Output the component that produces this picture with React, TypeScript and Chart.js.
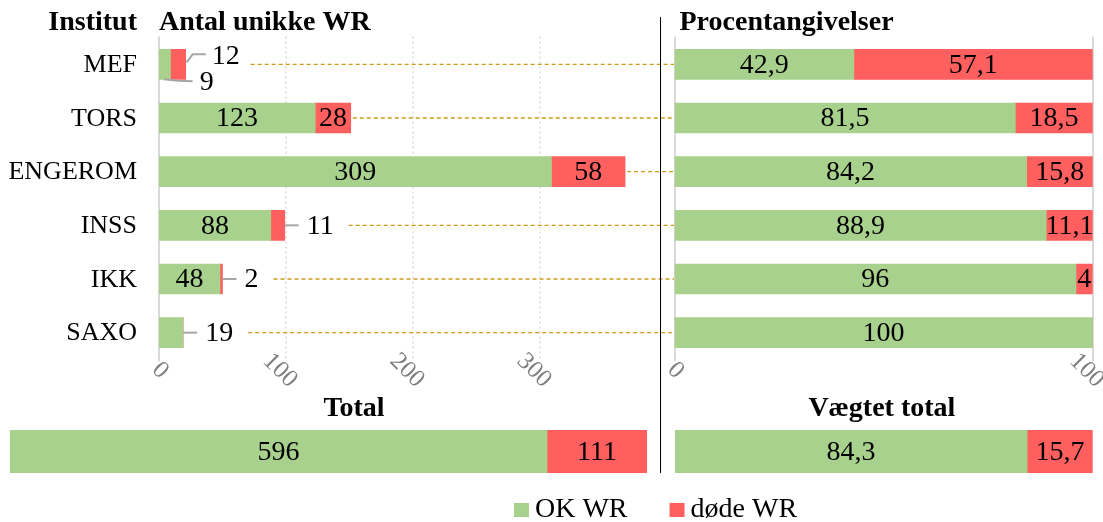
import React, { useEffect, useRef } from 'react';
import { Chart, registerables } from 'chart.js';
Chart.register(...registerables);

const categories = ['MEF', 'TORS', 'ENGEROM', 'INSS', 'IKK', 'SAXO'];
const okCounts = [9, 123, 309, 88, 48, 19];
const deadCounts = [12, 28, 58, 11, 2, 0];
const okPercent = [42.9, 81.5, 84.2, 88.9, 96, 100];
const deadPercent = [57.1, 18.5, 15.8, 11.1, 4, 0];
const totalCategory = ['Total'];
const totalOk = [596];
const totalDead = [111];
const weightedCategory = ['Vægtet total'];
const weightedOk = [84.3];
const weightedDead = [15.7];
const countTicks = [0, 100, 200, 300];
const percentTicks = [0, 100];
const seriesNames = ['OK WR', 'døde WR'];
const headerInstitut = 'Institut';
const headerCounts = 'Antal unikke WR';
const headerPercent = 'Procentangivelser';

const GREEN = '#a9d18e';
const RED = '#ff5f5f';
const SERIF = '"Liberation Serif", "Times New Roman", serif';
const LEADER = '#a6a6a6';
const DASH = '#cf9a17';
const GRID = '#d9d9d9';
const LABEL_FONT = `28px ${SERIF}`;
const TITLE_FONT = `bold 28px ${SERIF}`;

const fmt = (v: number) => String(v).replace('.', ',');

function datasets(ok: number[], dead: number[], thickness: number) {
  return [
    { label: seriesNames[0], data: ok, backgroundColor: GREEN, barThickness: thickness, borderWidth: 0 },
    { label: seriesNames[1], data: dead, backgroundColor: RED, barThickness: thickness, borderWidth: 0 },
  ];
}

function baseOptions(padding: any, xMax: number) {
  return {
    indexAxis: 'y' as const,
    responsive: false,
    maintainAspectRatio: false,
    animation: false as const,
    layout: { padding },
    plugins: { legend: { display: false }, tooltip: { enabled: false }, title: { display: false } },
    scales: {
      x: { display: false, stacked: true, min: 0, max: xMax },
      y: { display: false, stacked: true },
    },
  };
}

function drawGrid(chart: any, ticks: number[], dottedInner: boolean) {
  const ctx = chart.ctx;
  const a = chart.chartArea;
  const xs = chart.scales.x;
  ctx.save();
  ticks.forEach((v) => {
    const x = Math.round(xs.getPixelForValue(v));
    ctx.beginPath();
    ctx.strokeStyle = GRID;
    if (dottedInner && v !== 0) {
      ctx.lineWidth = 1.5;
      ctx.setLineDash([2, 3]);
    } else {
      ctx.lineWidth = 2;
      ctx.setLineDash([]);
    }
    ctx.moveTo(x, a.top - 1);
    ctx.lineTo(x, a.bottom + 2);
    ctx.stroke();
  });
  ctx.restore();
}

function drawRotatedTicks(chart: any, ticks: number[]) {
  const ctx = chart.ctx;
  const xs = chart.scales.x;
  const a = chart.chartArea;
  ctx.save();
  ctx.font = `25px ${SERIF}`;
  ctx.fillStyle = '#7f7f7f';
  ctx.textAlign = 'center';
  ctx.textBaseline = 'middle';
  ticks.forEach((v) => {
    const t = String(v);
    const x = xs.getPixelForValue(v) + 1 - 3.5 * (t.length - 1);
    ctx.save();
    ctx.translate(x, a.bottom + 11);
    ctx.rotate(Math.PI / 4);
    ctx.fillText(t, 0, 0);
    ctx.restore();
  });
  ctx.restore();
}

function drawInsideLabels(chart: any, okVals: number[], deadVals: number[], font: string) {
  const ctx = chart.ctx;
  ctx.save();
  ctx.font = font;
  ctx.fillStyle = '#000';
  ctx.textAlign = 'center';
  ctx.textBaseline = 'middle';
  [okVals, deadVals].forEach((vals, di) => {
    const meta = chart.getDatasetMeta(di);
    vals.forEach((v, i) => {
      if (!v) return;
      const el = meta.data[i];
      ctx.fillText(fmt(v), (el.x + el.base) / 2, el.y + 1);
    });
  });
  ctx.restore();
}

const leftPlugin = {
  id: 'leftPanel',
  beforeDatasetsDraw(chart: any) {
    drawGrid(chart, countTicks, true);
  },
  afterDatasetsDraw(chart: any) {
    const ctx = chart.ctx;
    const a = chart.chartArea;
    const ys = chart.scales.y;
    ctx.save();
    ctx.fillStyle = '#000';
    ctx.font = TITLE_FONT;
    ctx.textBaseline = 'alphabetic';
    ctx.textAlign = 'right';
    ctx.fillText(headerInstitut, a.left - 22, 30);
    ctx.textAlign = 'left';
    ctx.fillText(headerCounts, a.left, 30);
    ctx.font = `26px ${SERIF}`;
    ctx.textAlign = 'right';
    ctx.textBaseline = 'middle';
    categories.forEach((c, i) => ctx.fillText(c, a.left - 22, ys.getPixelForValue(i) + 1));
    ctx.restore();

    drawRotatedTicks(chart, countTicks);

    const m0 = chart.getDatasetMeta(0);
    const m1 = chart.getDatasetMeta(1);
    ctx.save();
    ctx.font = LABEL_FONT;
    ctx.fillStyle = '#000';
    ctx.textBaseline = 'middle';
    categories.forEach((_, i) => {
      const okEl = m0.data[i];
      const deadEl = m1.data[i];
      const cy = okEl.y;
      const h = okEl.height;
      const segs = [
        { v: okCounts[i], el: okEl },
        { v: deadCounts[i], el: deadEl },
      ];
      const endX = Math.max(okEl.x, deadEl.x);
      const outside: any[] = [];
      segs.forEach((s) => {
        if (!s.v) return;
        const t = String(s.v);
        const w = s.el.x - s.el.base;
        if (w >= ctx.measureText(t).width + 2) {
          ctx.textAlign = 'center';
          ctx.fillText(t, (s.el.x + s.el.base) / 2, cy + 1);
        } else {
          outside.push(s);
        }
      });
      let dashStart = endX + 2;
      ctx.strokeStyle = LEADER;
      ctx.lineWidth = 2;
      if (outside.length === 1) {
        const t = String(outside[0].v);
        ctx.beginPath();
        ctx.moveTo(endX, cy);
        ctx.lineTo(endX + 14, cy);
        ctx.stroke();
        ctx.textAlign = 'left';
        ctx.fillText(t, endX + 22, cy + 1);
        dashStart = endX + 22 + ctx.measureText(t).width + 15;
      } else if (outside.length === 2) {
        const okT = String(outside[0].v);
        const deadT = String(outside[1].v);
        ctx.beginPath();
        ctx.moveTo(endX + 1, cy - 2);
        ctx.lineTo(endX + 7, cy - 10);
        ctx.lineTo(endX + 20, cy - 10);
        ctx.stroke();
        ctx.textAlign = 'left';
        ctx.fillText(deadT, endX + 26, cy - 8);
        const okC = (outside[0].el.x + outside[0].el.base) / 2;
        const bottom = cy + h / 2;
        ctx.beginPath();
        ctx.moveTo(okC - 1, bottom);
        ctx.quadraticCurveTo(okC + 14, bottom + 2, endX + 7, bottom + 2);
        ctx.stroke();
        ctx.fillText(okT, endX + 14, cy + 18);
        dashStart = Math.max(endX + 26 + ctx.measureText(deadT).width, endX + 14 + ctx.measureText(okT).width) + 11;
      }
      ctx.save();
      ctx.strokeStyle = DASH;
      ctx.lineWidth = 1.3;
      ctx.setLineDash([4, 3]);
      ctx.beginPath();
      ctx.moveTo(dashStart, cy);
      ctx.lineTo(chart.width - 1, cy);
      ctx.stroke();
      ctx.restore();
    });
    ctx.restore();
  },
};

const rightPlugin = {
  id: 'rightPanel',
  beforeDatasetsDraw(chart: any) {
    drawGrid(chart, percentTicks, false);
  },
  afterDatasetsDraw(chart: any) {
    const ctx = chart.ctx;
    const a = chart.chartArea;
    ctx.save();
    ctx.fillStyle = '#000';
    ctx.font = TITLE_FONT;
    ctx.textAlign = 'left';
    ctx.textBaseline = 'alphabetic';
    ctx.fillText(headerPercent, a.left + 5, 30);
    ctx.restore();
    drawRotatedTicks(chart, percentTicks);
    drawInsideLabels(chart, okPercent, deadPercent, LABEL_FONT);
  },
};

const totalPlugin = {
  id: 'totalPanel',
  afterDatasetsDraw(chart: any) {
    const ctx = chart.ctx;
    ctx.save();
    ctx.fillStyle = '#000';
    ctx.font = TITLE_FONT;
    ctx.textAlign = 'center';
    ctx.textBaseline = 'alphabetic';
    ctx.fillText(totalCategory[0], 354, 26);
    ctx.restore();
    drawInsideLabels(chart, totalOk, totalDead, LABEL_FONT);
    ctx.save();
    ctx.font = `28px ${SERIF}`;
    ctx.textBaseline = 'alphabetic';
    ctx.textAlign = 'left';
    let x = 514;
    chart.data.datasets.forEach((ds: any) => {
      ctx.fillStyle = ds.backgroundColor;
      ctx.fillRect(x, 113, 15, 14);
      ctx.fillStyle = '#000';
      ctx.fillText(ds.label, x + 21, 127);
      x += 21 + ctx.measureText(ds.label).width + 42;
    });
    ctx.restore();
  },
};

const weightedPlugin = {
  id: 'weightedPanel',
  afterDatasetsDraw(chart: any) {
    const ctx = chart.ctx;
    const a = chart.chartArea;
    ctx.save();
    ctx.fillStyle = '#000';
    ctx.font = TITLE_FONT;
    ctx.textAlign = 'center';
    ctx.textBaseline = 'alphabetic';
    ctx.fillText(weightedCategory[0], (a.left + a.right) / 2 - 2, 26);
    ctx.restore();
    drawInsideLabels(chart, weightedOk, weightedDead, LABEL_FONT);
  },
};

export default function App() {
  const leftRef = useRef<HTMLCanvasElement>(null);
  const rightRef = useRef<HTMLCanvasElement>(null);
  const totalRef = useRef<HTMLCanvasElement>(null);
  const weightedRef = useRef<HTMLCanvasElement>(null);

  useEffect(() => {
    const charts: Chart[] = [];
    charts.push(
      new Chart(leftRef.current!, {
        type: 'bar',
        data: { labels: categories, datasets: datasets(okCounts, deadCounts, 30) as any },
        options: baseOptions({ left: 159, right: 20.7, top: 37.5, bottom: 30.5 }, 390) as any,
        plugins: [leftPlugin],
      })
    );
    charts.push(
      new Chart(rightRef.current!, {
        type: 'bar',
        data: { labels: categories, datasets: datasets(okPercent, deadPercent, 30) as any },
        options: baseOptions({ left: 14.5, right: 10.3, top: 37.5, bottom: 30.5 }, 100) as any,
        plugins: [rightPlugin],
      })
    );
    charts.push(
      new Chart(totalRef.current!, {
        type: 'bar',
        data: { labels: totalCategory, datasets: datasets(totalOk, totalDead, 43) as any },
        options: baseOptions({ left: 9.8, right: 456, top: 40, bottom: 49 }, totalOk[0] + totalDead[0]) as any,
        plugins: [totalPlugin],
      })
    );
    charts.push(
      new Chart(weightedRef.current!, {
        type: 'bar',
        data: { labels: weightedCategory, datasets: datasets(weightedOk, weightedDead, 43) as any },
        options: baseOptions({ left: 15, right: 10.3, top: 40, bottom: 49 }, 100) as any,
        plugins: [weightedPlugin],
      })
    );
    return () => charts.forEach((c) => c.destroy());
  }, []);

  const abs = (l: number, t: number, w: number, h: number): React.CSSProperties => ({
    position: 'absolute', left: l, top: t, width: w, height: h,
  });

  return (
    <div style={{ position: 'absolute', left: 0, top: 0, width: 1103, height: 522, background: '#fff', overflow: 'hidden' }}>
      <canvas ref={leftRef} width={675} height={390} style={abs(0, 0, 675, 390)} />
      <canvas ref={totalRef} width={1103} height={132} style={abs(0, 390, 1103, 132)} />
      <div style={{ position: 'absolute', left: 660, top: 17, width: 1, height: 456, background: '#000' }} />
      <canvas ref={rightRef} width={443} height={390} style={abs(660, 0, 443, 390)} />
      <canvas ref={weightedRef} width={443} height={132} style={abs(660, 390, 443, 132)} />
    </div>
  );
}
